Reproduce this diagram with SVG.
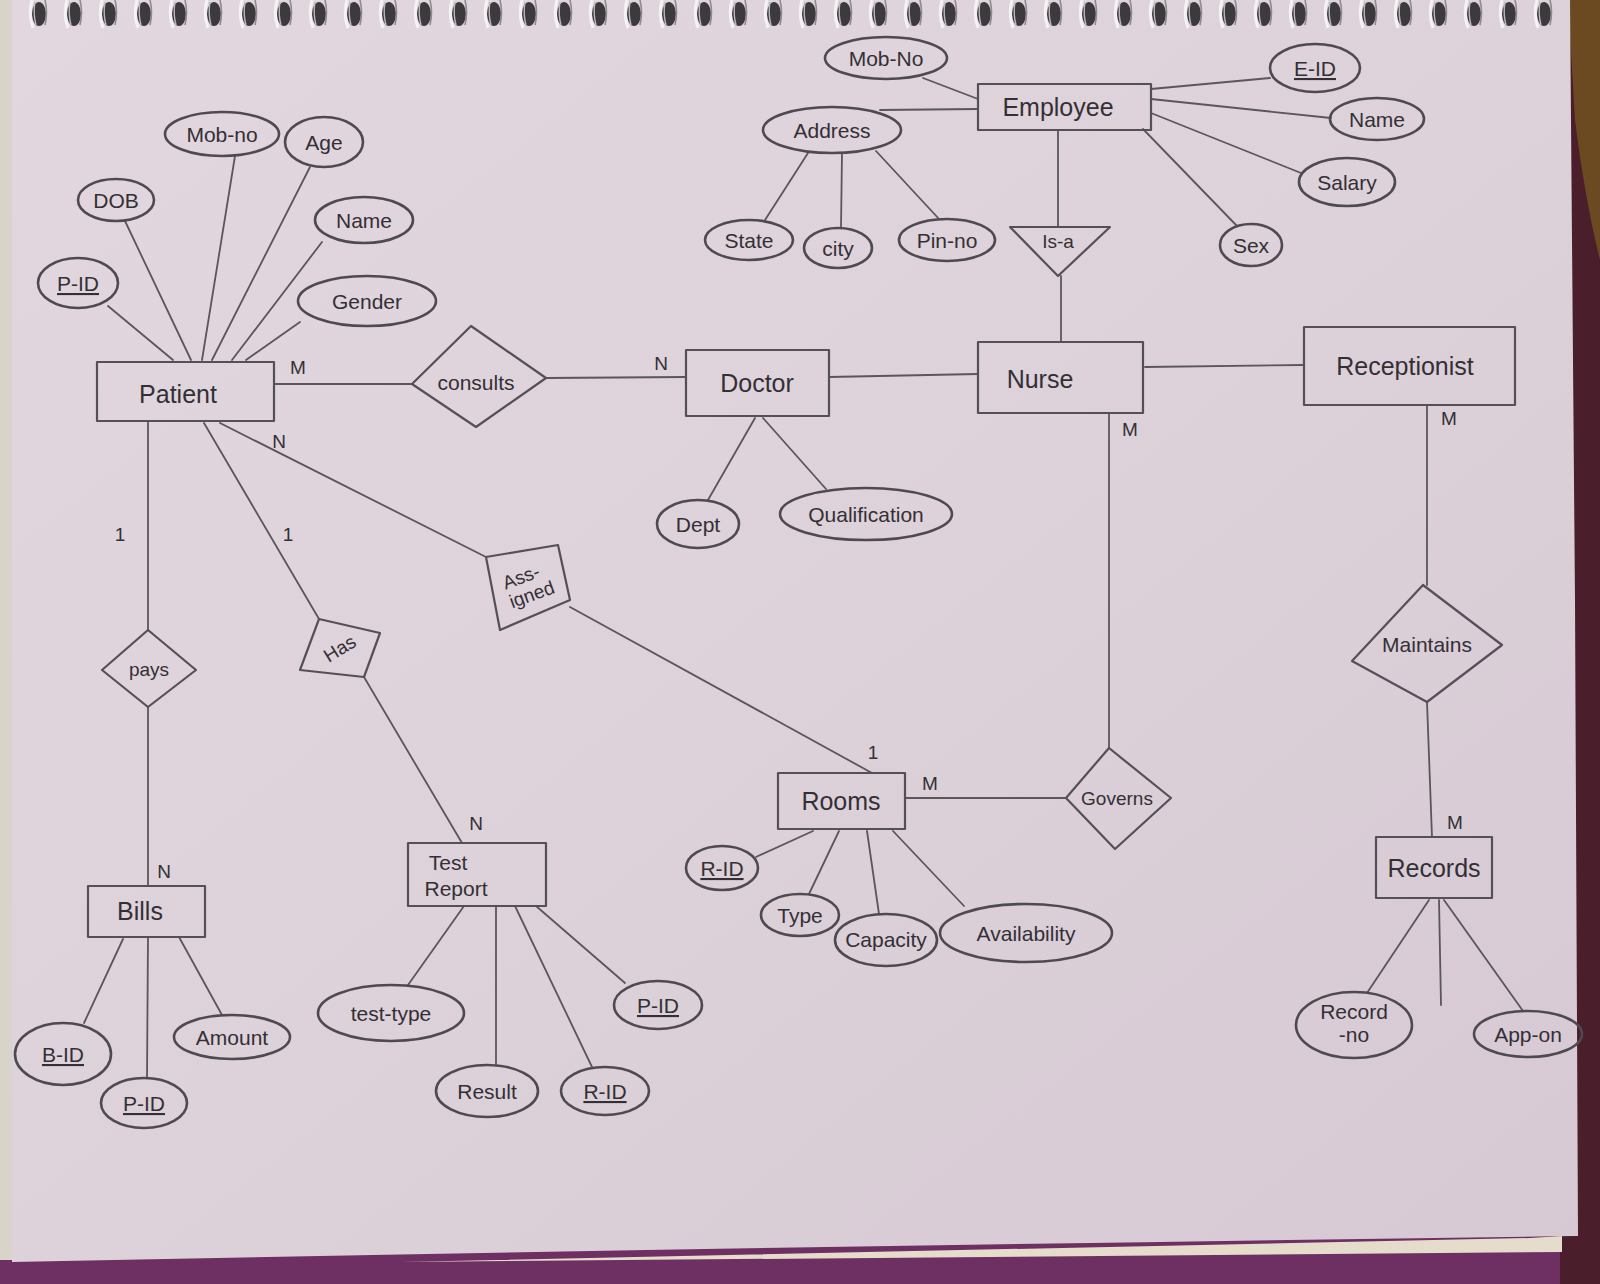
<svg xmlns="http://www.w3.org/2000/svg" xmlns:xlink="http://www.w3.org/1999/xlink" width="1600" height="1284" viewBox="0 0 1600 1284">
<defs>
<style>
.s{fill:none;stroke:#555058;stroke-width:2.2;stroke-linecap:round;stroke-linejoin:round}
.e{fill:none;stroke:#4e4a50;stroke-width:2.6}
.c{stroke:#5a565c;stroke-width:1.8;fill:none;stroke-linecap:round}
text{font-family:"Liberation Sans","DejaVu Sans",sans-serif;fill:#333035;text-anchor:middle}
.t{font-size:25px}
.a{font-size:21px}
.k{font-size:21px;text-decoration:underline}
.l{font-size:19px}
</style>
<linearGradient id="paper" x1="0" y1="0" x2="1" y2="1">
<stop offset="0" stop-color="#e2d7df"/>
<stop offset="0.5" stop-color="#ddd1da"/>
<stop offset="1" stop-color="#d6c9d3"/>
</linearGradient>
<g id="ring">
<ellipse cx="0" cy="14" rx="7" ry="12" fill="#3d3a3e"/>
<path d="M-7 0 Q-11 14 -6 28" stroke="#f4f2f4" stroke-width="3" fill="none"/>
<path d="M-4 2 Q-6 14 -3 25" stroke="#b9b5ba" stroke-width="1.4" fill="none"/>
<path d="M6 0 Q9 12 6 25" stroke="#8f8b90" stroke-width="1.6" fill="none"/>
</g>
</defs>

<g id="background">
<rect x="0" y="0" width="1600" height="1284" fill="#6e2f63"/>
<rect x="1560" y="0" width="40" height="1284" fill="#4a1e2a"/>
<path d="M1568 0 L1600 0 L1600 260 Q1585 200 1575 120 Z" fill="#6b4a22"/>
<rect x="0" y="0" width="14" height="1260" fill="#d9d4c9"/>
<path d="M1530 1238 L1562 1236 L1562 1252 L400 1262 Z" fill="#e6dccb"/>
<path d="M12 0 L1570 0 L1575 600 L1578 1236 Q800 1246 12 1262 Z" fill="url(#paper)"/>
</g>

<g id="spiral">
<use href="#ring" x="39"/><use href="#ring" x="74"/><use href="#ring" x="109"/><use href="#ring" x="144"/><use href="#ring" x="179"/><use href="#ring" x="214"/><use href="#ring" x="249"/><use href="#ring" x="284"/><use href="#ring" x="319"/><use href="#ring" x="354"/><use href="#ring" x="389"/><use href="#ring" x="424"/><use href="#ring" x="459"/><use href="#ring" x="494"/><use href="#ring" x="529"/><use href="#ring" x="564"/><use href="#ring" x="599"/><use href="#ring" x="634"/><use href="#ring" x="669"/><use href="#ring" x="704"/><use href="#ring" x="739"/><use href="#ring" x="774"/><use href="#ring" x="809"/><use href="#ring" x="844"/><use href="#ring" x="879"/><use href="#ring" x="914"/><use href="#ring" x="949"/><use href="#ring" x="984"/><use href="#ring" x="1019"/><use href="#ring" x="1054"/><use href="#ring" x="1089"/><use href="#ring" x="1124"/><use href="#ring" x="1159"/><use href="#ring" x="1194"/><use href="#ring" x="1229"/><use href="#ring" x="1264"/><use href="#ring" x="1299"/><use href="#ring" x="1334"/><use href="#ring" x="1369"/><use href="#ring" x="1404"/><use href="#ring" x="1439"/><use href="#ring" x="1474"/><use href="#ring" x="1509"/><use href="#ring" x="1544"/>
</g>

<g id="connectors">
<!-- Patient attributes -->
<line class="c" x1="108" y1="306" x2="173" y2="360"/>
<line class="c" x1="125" y1="221" x2="191" y2="360"/>
<line class="c" x1="235" y1="156" x2="202" y2="360"/>
<line class="c" x1="310" y1="167" x2="212" y2="360"/>
<line class="c" x1="322" y1="242" x2="232" y2="360"/>
<line class="c" x1="300" y1="322" x2="246" y2="360"/>
<!-- Patient - consults - Doctor -->
<line class="c" x1="274" y1="384" x2="412" y2="384"/>
<line class="c" x1="546" y1="378" x2="686" y2="377"/>
<!-- Doctor - Nurse - Receptionist -->
<line class="c" x1="829" y1="377" x2="978" y2="374"/>
<line class="c" x1="1145" y1="367" x2="1304" y2="365"/>
<!-- Doctor attributes -->
<line class="c" x1="755" y1="418" x2="708" y2="500"/>
<line class="c" x1="763" y1="418" x2="826" y2="489"/>
<!-- Employee attributes -->
<line class="c" x1="923" y1="78" x2="978" y2="99"/>
<line class="c" x1="880" y1="110" x2="978" y2="109"/>
<line class="c" x1="1151" y1="89" x2="1270" y2="78"/>
<line class="c" x1="1151" y1="99" x2="1331" y2="118"/>
<line class="c" x1="1151" y1="113" x2="1301" y2="173"/>
<line class="c" x1="1143" y1="129" x2="1237" y2="226"/>
<line class="c" x1="808" y1="153" x2="765" y2="220"/>
<line class="c" x1="842" y1="153" x2="841" y2="228"/>
<line class="c" x1="876" y1="151" x2="939" y2="219"/>
<!-- Employee - Is-a - Nurse -->
<line class="c" x1="1058" y1="130" x2="1058" y2="227"/>
<line class="c" x1="1061" y1="276" x2="1061" y2="342"/>
<!-- Patient - pays - Bills -->
<line class="c" x1="148" y1="421" x2="148" y2="630"/>
<line class="c" x1="148" y1="707" x2="148" y2="886"/>
<line class="c" x1="123" y1="939" x2="84" y2="1023"/>
<line class="c" x1="148" y1="937" x2="147" y2="1078"/>
<line class="c" x1="179" y1="937" x2="222" y2="1015"/>
<!-- Patient - Has - Test Report -->
<line class="c" x1="204" y1="423" x2="319" y2="619"/>
<line class="c" x1="364" y1="677" x2="462" y2="843"/>
<line class="c" x1="464" y1="906" x2="408" y2="985"/>
<line class="c" x1="496" y1="906" x2="496" y2="1065"/>
<line class="c" x1="515" y1="906" x2="592" y2="1067"/>
<line class="c" x1="536" y1="906" x2="625" y2="983"/>
<!-- Patient - Assigned - Rooms -->
<line class="c" x1="220" y1="423" x2="486" y2="557"/>
<line class="c" x1="570" y1="607" x2="872" y2="773"/>
<!-- Rooms - Governs - Nurse -->
<line class="c" x1="905" y1="798" x2="1066" y2="798"/>
<line class="c" x1="1109" y1="413" x2="1109" y2="748"/>
<line class="c" x1="813" y1="831" x2="756" y2="857"/>
<line class="c" x1="839" y1="831" x2="809" y2="894"/>
<line class="c" x1="867" y1="831" x2="879" y2="914"/>
<line class="c" x1="893" y1="831" x2="964" y2="906"/>
<!-- Receptionist - Maintains - Records -->
<line class="c" x1="1427" y1="405" x2="1427" y2="585"/>
<line class="c" x1="1427" y1="702" x2="1432" y2="837"/>
<line class="c" x1="1429" y1="900" x2="1367" y2="993"/>
<line class="c" x1="1439" y1="900" x2="1441" y2="1005"/>
<line class="c" x1="1444" y1="900" x2="1523" y2="1011"/>
<!-- cardinalities -->
<text class="l" x="298" y="374">M</text>
<text class="l" x="279" y="448">N</text>
<text class="l" x="661" y="370">N</text>
<text class="l" x="120" y="541">1</text>
<text class="l" x="288" y="541">1</text>
<text class="l" x="164" y="878">N</text>
<text class="l" x="476" y="830">N</text>
<text class="l" x="873" y="759">1</text>
<text class="l" x="930" y="790">M</text>
<text class="l" x="1130" y="436">M</text>
<text class="l" x="1449" y="425">M</text>
<text class="l" x="1455" y="829">M</text>
</g>

<!-- Patient entity and attributes -->
<g id="patient"><rect class="s" x="97" y="362" width="177" height="59"/><text class="t" x="178" y="403">Patient</text></g>
<g id="patient-mobno"><ellipse class="e" cx="222" cy="134" rx="57" ry="22"/><text class="a" x="222" y="142">Mob-no</text></g>
<g id="patient-age"><ellipse class="e" cx="324" cy="142" rx="39" ry="25"/><text class="a" x="324" y="150">Age</text></g>
<g id="patient-dob"><ellipse class="e" cx="116" cy="200" rx="38" ry="21"/><text class="a" x="116" y="208">DOB</text></g>
<g id="patient-name"><ellipse class="e" cx="364" cy="220" rx="49" ry="23"/><text class="a" x="364" y="228">Name</text></g>
<g id="patient-pid"><ellipse class="e" cx="78" cy="283" rx="40" ry="25"/><text class="k" x="78" y="291">P-ID</text></g>
<g id="patient-gender"><ellipse class="e" cx="367" cy="301" rx="69" ry="25"/><text class="a" x="367" y="309">Gender</text></g>

<g id="consults"><polygon class="s" points="412,384 471,326 546,378 476,427"/><text class="a" x="476" y="390">consults</text></g>

<g id="doctor"><rect class="s" x="686" y="350" width="143" height="66"/><text class="t" x="757" y="392">Doctor</text></g>
<g id="doctor-dept"><ellipse class="e" cx="698" cy="524" rx="41" ry="24"/><text class="a" x="698" y="532">Dept</text></g>
<g id="doctor-qualification"><ellipse class="e" cx="866" cy="514" rx="86" ry="26"/><text class="a" x="866" y="522">Qualification</text></g>

<g id="nurse"><rect class="s" x="978" y="342" width="165" height="71"/><text class="t" x="1040" y="388">Nurse</text></g>
<g id="receptionist"><rect class="s" x="1304" y="327" width="211" height="78"/><text class="t" x="1405" y="375">Receptionist</text></g>

<!-- Employee -->
<g id="employee"><rect class="s" x="978" y="84" width="173" height="46"/><text class="t" x="1058" y="116">Employee</text></g>
<g id="employee-mobno"><ellipse class="e" cx="886" cy="58" rx="61" ry="21"/><text class="a" x="886" y="66">Mob-No</text></g>
<g id="employee-address"><ellipse class="e" cx="832" cy="130" rx="69" ry="23"/><text class="a" x="832" y="138">Address</text></g>
<g id="address-state"><ellipse class="e" cx="749" cy="240" rx="44" ry="20"/><text class="a" x="749" y="248">State</text></g>
<g id="address-city"><ellipse class="e" cx="838" cy="248" rx="34" ry="20"/><text class="a" x="838" y="256">city</text></g>
<g id="address-pinno"><ellipse class="e" cx="947" cy="240" rx="48" ry="21"/><text class="a" x="947" y="248">Pin-no</text></g>
<g id="employee-eid"><ellipse class="e" cx="1315" cy="68" rx="45" ry="24"/><text class="k" x="1315" y="76">E-ID</text></g>
<g id="employee-name"><ellipse class="e" cx="1377" cy="119" rx="47" ry="21"/><text class="a" x="1377" y="127">Name</text></g>
<g id="employee-salary"><ellipse class="e" cx="1347" cy="182" rx="48" ry="24"/><text class="a" x="1347" y="190">Salary</text></g>
<g id="employee-sex"><ellipse class="e" cx="1251" cy="245" rx="31" ry="21"/><text class="a" x="1251" y="253">Sex</text></g>
<g id="is-a"><polygon class="s" points="1010,227 1110,227 1058,276"/><text class="l" x="1058" y="248">Is-a</text></g>

<!-- Bills -->
<g id="pays"><polygon class="s" points="102,670 148,630 196,670 148,707"/><text class="l" x="149" y="676">pays</text></g>
<g id="bills"><rect class="s" x="88" y="886" width="117" height="51"/><text class="t" x="140" y="920">Bills</text></g>
<g id="bills-bid"><ellipse class="e" cx="63" cy="1054" rx="48" ry="31"/><text class="k" x="63" y="1062">B-ID</text></g>
<g id="bills-pid"><ellipse class="e" cx="144" cy="1103" rx="43" ry="25"/><text class="k" x="144" y="1111">P-ID</text></g>
<g id="bills-amount"><ellipse class="e" cx="232" cy="1037" rx="58" ry="22"/><text class="a" x="232" y="1045">Amount</text></g>

<!-- Test Report -->
<g id="has"><polygon class="s" points="319,619 380,633 364,677 300,670"/><text class="l" x="340" y="655" transform="rotate(-32 340 649)">Has</text></g>
<g id="test-report"><rect class="s" x="408" y="843" width="138" height="63"/><text class="a" x="448" y="870">Test</text><text class="a" x="456" y="896">Report</text></g>
<g id="test-type"><ellipse class="e" cx="391" cy="1013" rx="73" ry="28"/><text class="a" x="391" y="1021">test-type</text></g>
<g id="test-result"><ellipse class="e" cx="487" cy="1091" rx="51" ry="26"/><text class="a" x="487" y="1099">Result</text></g>
<g id="test-rid"><ellipse class="e" cx="605" cy="1091" rx="44" ry="24"/><text class="k" x="605" y="1099">R-ID</text></g>
<g id="test-pid"><ellipse class="e" cx="658" cy="1005" rx="44" ry="24"/><text class="k" x="658" y="1013">P-ID</text></g>

<!-- Rooms -->
<g id="assigned"><polygon class="s" points="486,557 558,545 570,600 500,630"/><text class="l" x="526" y="582" transform="rotate(-20 528 590)">Ass-</text><text class="l" x="530" y="602" transform="rotate(-20 528 590)">igned</text></g>
<g id="rooms"><rect class="s" x="778" y="773" width="127" height="56"/><text class="t" x="841" y="810">Rooms</text></g>
<g id="rooms-rid"><ellipse class="e" cx="722" cy="868" rx="36" ry="22"/><text class="k" x="722" y="876">R-ID</text></g>
<g id="rooms-type"><ellipse class="e" cx="800" cy="915" rx="39" ry="21"/><text class="a" x="800" y="923">Type</text></g>
<g id="rooms-capacity"><ellipse class="e" cx="886" cy="940" rx="51" ry="26"/><text class="a" x="886" y="947">Capacity</text></g>
<g id="rooms-availability"><ellipse class="e" cx="1026" cy="933" rx="86" ry="29"/><text class="a" x="1026" y="941">Availability</text></g>
<g id="governs"><polygon class="s" points="1066,798 1109,748 1171,798 1115,849"/><text class="l" x="1117" y="805">Governs</text></g>

<!-- Records -->
<g id="maintains"><polygon class="s" points="1352,661 1423,585 1502,645 1427,702"/><text class="a" x="1427" y="652">Maintains</text></g>
<g id="records"><rect class="s" x="1376" y="837" width="116" height="61"/><text class="t" x="1434" y="877">Records</text></g>
<g id="record-no"><ellipse class="e" cx="1354" cy="1025" rx="58" ry="33"/><text class="a" x="1354" y="1019">Record</text><text class="a" x="1354" y="1042">-no</text></g>
<g id="app-on"><ellipse class="e" cx="1528" cy="1034" rx="54" ry="23"/><text class="a" x="1528" y="1042">App-on</text></g>
</svg>
